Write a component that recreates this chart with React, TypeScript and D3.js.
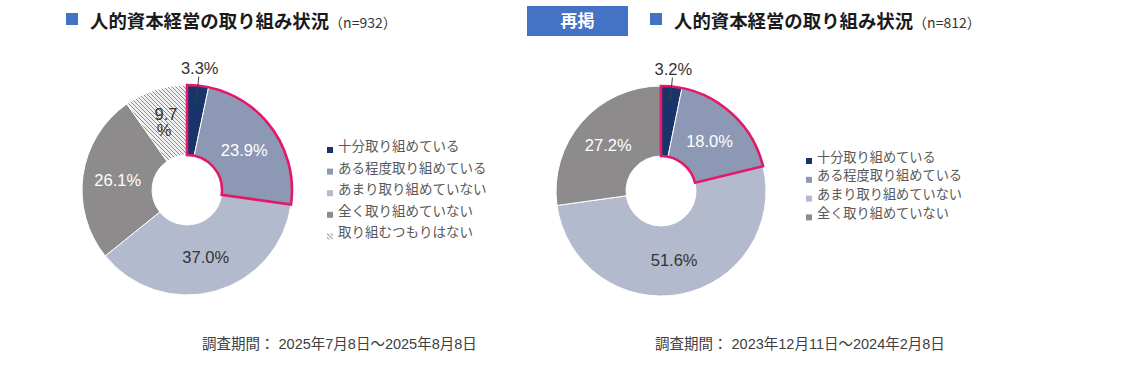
import React from "react";
import * as d3 from "d3";

const categories = ["十分取り組めている", "ある程度取り組めている", "あまり取り組めていない", "全く取り組めていない", "取り組むつもりはない"];
const values2025 = [3.3, 23.9, 37.0, 26.1, 9.7];
const values2023 = [3.2, 18.0, 51.6, 27.2];
const titleText = "人的資本経営の取り組み状況";
const n2025 = "（n=932）";
const n2023 = "（n=812）";
const period2025 = "調査期間： 2025年7月8日～2025年8月8日";
const period2023 = "調査期間： 2023年12月11日～2024年2月8日";
const repostLabel = "再掲";

const colors = ["#17346b", "#8d98b4", "#b3bace", "#8e8b8c", "url(#hatch)"];
const labelColors = ["#333333", "#ffffff", "#333333", "#ffffff", "#333333"];
const JP = "'Noto Sans CJK JP', sans-serif";
const NUM = "'Liberation Sans', Arial, 'Noto Sans CJK JP', sans-serif";

const R = 105;
const r0 = 35;

function Donut({ values, cx, cy }: { values: number[]; cx: number; cy: number }) {
  const pie = d3.pie<number>().sort(null).value((d) => d);
  const arcs = pie(values);
  const arc = d3.arc<d3.PieArcDatum<number>>().innerRadius(r0).outerRadius(R);
  const labelArc = d3.arc<d3.PieArcDatum<number>>().innerRadius(70).outerRadius(70);
  const outline = d3.arc()({
    innerRadius: r0,
    outerRadius: R,
    startAngle: arcs[0].startAngle,
    endAngle: arcs[1].endAngle,
  } as any) as string;
  return (
    <g transform={`translate(${cx},${cy})`}>
      {arcs.map((a, i) => (
        <path key={i} d={arc(a) as string} fill={colors[i]} stroke="#ffffff" strokeWidth={1} />
      ))}
      <path d={outline} fill="none" stroke="#e4176b" strokeWidth={2.6} strokeLinejoin="miter" />
      {arcs.map((a, i) => {
        const label = d3.format(".1f")(values[i]) + "%";
        const mid = (a.startAngle + a.endAngle) / 2;
        if (i === 0) {
          const pt = (rr: number) => [Math.sin(mid) * rr, -Math.cos(mid) * rr];
          const [lx, ly] = pt(123);
          const [x1, y1] = pt(114);
          const [x2, y2] = pt(92);
          return (
            <g key={i}>
              <line x1={x1} y1={y1} x2={x2} y2={y2} stroke="#404040" strokeWidth={1} />
              <text x={lx} y={ly} textAnchor="middle" dominantBaseline="central" fontFamily={NUM} fontSize={16.5} fill="#333333">
                {label}
              </text>
            </g>
          );
        }
        const [x, y] = labelArc.centroid(a);
        if (i === 4) {
          return (
            <text key={i} textAnchor="middle" fontFamily={NUM} fontSize={16.5} fill={labelColors[i]}>
              <tspan x={x} y={y - 3}>{d3.format(".1f")(values[i])}</tspan>
              <tspan x={x - 2} y={y + 13}>%</tspan>
            </text>
          );
        }
        return (
          <text key={i} x={x} y={y} textAnchor="middle" dominantBaseline="central" fontFamily={NUM} fontSize={16.5} fill={labelColors[i]}>
            {label}
          </text>
        );
      })}
    </g>
  );
}

function Legend({ x, y, step, count, size }: { x: number; y: number; step: number; count: number; size: number }) {
  return (
    <g>
      {categories.slice(0, count).map((c, i) => (
        <g key={i} transform={`translate(${x},${y + i * step})`}>
          <rect x={0} y={0} width={6} height={6} fill={colors[i]} />
          <text x={11} y={-2} fontFamily={JP} fontSize={size} fill="#595959" dominantBaseline="central">
            {c}
          </text>
        </g>
      ))}
    </g>
  );
}

function Title({ x, n }: { x: number; n: string }) {
  return (
    <g>
      <rect x={x} y={13} width={12} height={12} fill="#4472c4" />
      <text x={x + 24} y={28} fontFamily={JP} fontWeight={700} fontSize={18.4} fill="#1a1a1a">
        {titleText}
        <tspan fontWeight={400} fontSize={14} fill="#333333" fontFamily={JP}>{n}</tspan>
      </text>
    </g>
  );
}

export default function App() {
  return (
    <div style={{ position: "absolute", left: 0, top: 0 }}>
      <svg width={1125} height={383} style={{ display: "block", background: "#ffffff" }}>
        <defs>
          <pattern id="hatch" patternUnits="userSpaceOnUse" width={4} height={4}>
            <rect width={4} height={4} fill="#f2f2f2" />
            <path d="M-1,-1 L5,5 M3,-1 L5,1 M-1,3 L1,5" stroke="#8a8a8a" strokeWidth={1} />
          </pattern>
        </defs>
        <Title x={66} n={n2025} />
        <rect x={527} y={6} width={101} height={30} fill="#4472c4" />
        <text x={577.5} y={27} textAnchor="middle" fontFamily={JP} fontWeight={700} fontSize={17} fill="#ffffff">
          {repostLabel}
        </text>
        <Title x={650} n={n2023} />

        <Donut values={values2025} cx={187} cy={190} />
        <Donut values={values2023} cx={661} cy={191} />

        <Legend x={327} y={147} step={21.6} count={5} size={13.5} />
        <Legend x={806} y={158} step={18.8} count={4} size={13.2} />

        <text x={202} y={349} fontFamily={NUM} fontSize={14.5} fill="#404040">{period2025}</text>
        <text x={655} y={349} fontFamily={NUM} fontSize={14.5} fill="#404040">{period2023}</text>
      </svg>
    </div>
  );
}
